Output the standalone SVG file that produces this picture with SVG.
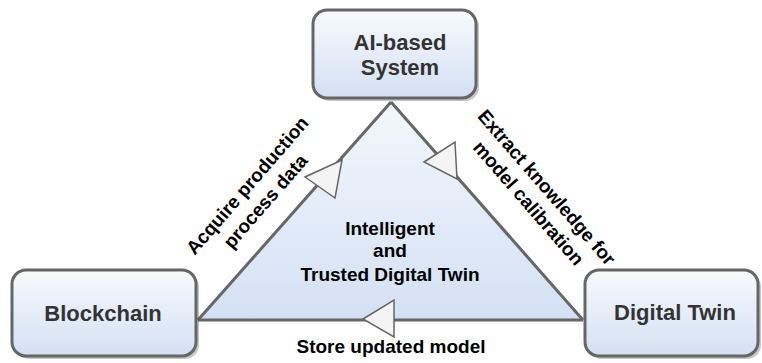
<svg xmlns="http://www.w3.org/2000/svg" width="762" height="363" viewBox="0 0 762 363">
<style>
.box{stroke:#666666;stroke-width:3;fill:url(#boxGrad)}
.shadow{fill:#000;opacity:0.22}
.blabel{font-family:"Liberation Sans",Arial,sans-serif;font-weight:bold;font-size:22px;fill:#333333;text-anchor:middle}
.label{font-family:"Liberation Sans",Arial,sans-serif;font-weight:bold;font-size:19px;fill:#000000;text-anchor:middle}
.edge{stroke:#666666;stroke-width:3;fill:none}
.head{fill:#f4f4f4;stroke:#666666;stroke-width:1.5;stroke-linejoin:miter}
</style>
<defs>
<linearGradient id="boxGrad" x1="0" y1="0" x2="0" y2="1">
<stop offset="0" stop-color="#f8fafd"/>
<stop offset="1" stop-color="#d3e0f3"/>
</linearGradient>
<linearGradient id="triGrad" x1="0" y1="0" x2="0" y2="1">
<stop offset="0" stop-color="#f4f7fc"/>
<stop offset="1" stop-color="#d3e0f4"/>
</linearGradient>
</defs>

<g id="core">
<polygon points="391,102 198,320 583,320" fill="url(#triGrad)" stroke="none"/>
<text class="label" x="390" y="235">Intelligent</text>
<text class="label" x="390" y="257">and</text>
<text class="label" x="390" y="281">Trusted Digital Twin</text>
</g>

<g id="connectors">
<line class="edge" x1="198" y1="320" x2="391" y2="102"/>
<line class="edge" x1="391" y1="102" x2="583" y2="320"/>
<line class="edge" x1="583" y1="320" x2="198" y2="320"/>
<polygon class="head" points="342,160 305,177 335,198"/>
<polygon class="head" points="424,162 455,142 457,179"/>
<polygon class="head" points="363,319 394,300 394,337"/>
<g transform="translate(256,193) rotate(-49)">
<text class="label" x="0" y="-5">Acquire production</text>
<text class="label" x="0" y="19">process data</text>
</g>
<g transform="translate(538,195) rotate(49)">
<text class="label" x="0" y="-5">Extract knowledge for</text>
<text class="label" x="0" y="19">model calibration</text>
</g>
<text class="label" x="391" y="353">Store updated model</text>
</g>

<g id="ai-system">
<rect class="shadow" x="316" y="13" width="163" height="88" rx="14"/>
<rect class="box" x="313" y="10" width="163" height="88" rx="14"/>
<text class="blabel" x="400" y="50">AI-based</text>
<text class="blabel" x="400" y="75">System</text>
</g>

<g id="blockchain">
<rect class="shadow" x="15" y="273" width="184" height="86" rx="14"/>
<rect class="box" x="12" y="270" width="184" height="86" rx="14"/>
<text class="blabel" x="103" y="321">Blockchain</text>
</g>

<g id="digital-twin">
<rect class="shadow" x="588" y="273" width="173" height="86" rx="14"/>
<rect class="box" x="585" y="270" width="173" height="86" rx="14"/>
<text class="blabel" x="675" y="320">Digital Twin</text>
</g>
</svg>
